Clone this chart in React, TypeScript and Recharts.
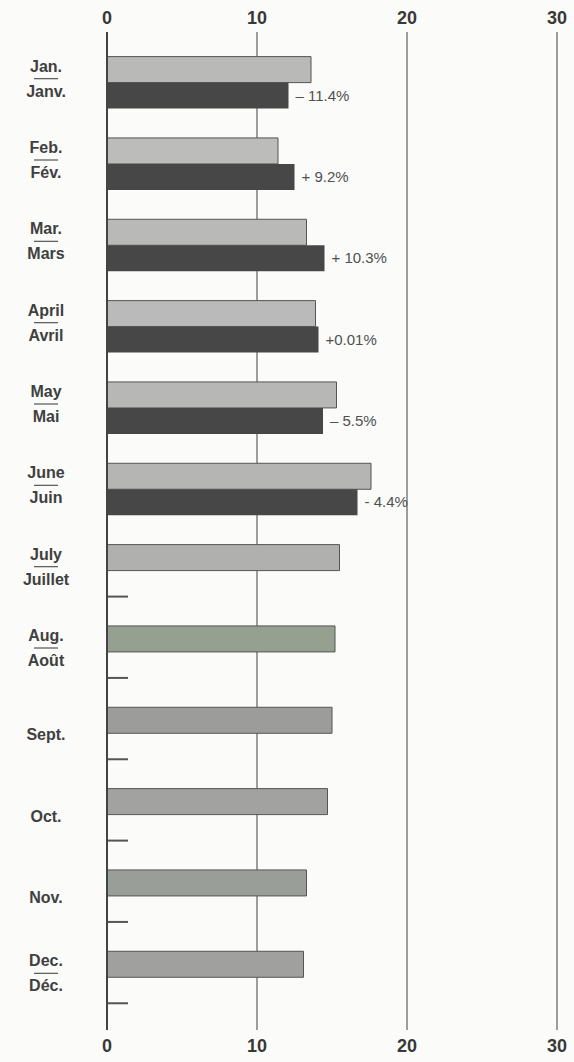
import { BarChart, Bar, XAxis, YAxis, CartesianGrid, Cell, LabelList } from 'recharts'

const monthsEn = ['Jan.', 'Feb.', 'Mar.', 'April', 'May', 'June', 'July', 'Aug.', 'Sept.', 'Oct.', 'Nov.', 'Dec.']
const monthsFr = ['Janv.', 'Fév.', 'Mars', 'Avril', 'Mai', 'Juin', 'Juillet', 'Août', '', '', '', 'Déc.']
const previousYear = [13.6, 11.4, 13.3, 13.9, 15.3, 17.6, 15.5, 15.2, 15.0, 14.7, 13.3, 13.1]
const currentYear = [12.1, 12.5, 14.5, 14.1, 14.4, 16.7, null, null, null, null, null, null]
const pendingMarks = [null, null, null, null, null, null, 1.4, 1.4, 1.4, 1.4, 1.4, 1.4]
const changeLabels = ['\u2013 11.4%', '+ 9.2%', '+ 10.3%', '+0.01%', '\u2013 5.5%', '- 4.4%', '', '', '', '', '', '']
const previousFills = ['#b9b9b7', '#bcbcba', '#b9b9b7', '#bababa', '#b7b7b5', '#b5b5b3', '#b0b1ae', '#96a091', '#9c9d9a', '#a2a2a0', '#9a9e98', '#a0a19e']
const xTicks = [0, 10, 20, 30]

const data = monthsEn.map((m, i) => ({
  month: m,
  fr: monthsFr[i],
  previous: previousYear[i],
  current: currentYear[i],
  pending: pendingMarks[i],
  change: changeLabels[i],
}))

const FONT = '"Liberation Sans", Arial, sans-serif'

function MonthTick({ x, y, payload, index }: any) {
  const fr = monthsFr[index]
  const cx = x - 53
  if (!fr) {
    return (
      <text x={cx} y={y + 7} textAnchor="middle" fontFamily={FONT} fontSize={16} fontWeight="bold" fill="#404040">
        {payload.value}
      </text>
    )
  }
  return (
    <g>
      <text x={cx} y={y - 11} textAnchor="middle" fontFamily={FONT} fontSize={16} fontWeight="bold" fill="#404040">
        {payload.value}
      </text>
      <line x1={cx - 12} x2={cx + 12} y1={y - 4} y2={y - 4} stroke="#555" strokeWidth={1.2} />
      <text x={cx} y={y + 14} textAnchor="middle" fontFamily={FONT} fontSize={16} fontWeight="bold" fill="#404040">
        {fr}
      </text>
    </g>
  )
}

function TopTick({ x, payload }: any) {
  return (
    <text x={x} y={24} textAnchor="middle" fontFamily={FONT} fontSize={18} fontWeight="bold" fill="#383838">
      {payload.value}
    </text>
  )
}

function BottomTick({ x, y, payload }: any) {
  return (
    <text x={x} y={y + 14} textAnchor="middle" fontFamily={FONT} fontSize={18} fontWeight="bold" fill="#383838">
      {payload.value}
    </text>
  )
}

function PendingMark({ x, y, width, height, pending }: any) {
  if (pending == null || !width) return null
  return <line x1={x} x2={x + width} y1={y + height} y2={y + height} stroke="#555" strokeWidth={2} />
}

function ChangeLabel({ x, y, width, height, value }: any) {
  if (!value) return null
  return (
    <text x={x + width + 7} y={y + height / 2 + 5} fontFamily={FONT} fontSize={15} fill="#505050">
      {value}
    </text>
  )
}

export default function App() {
  return (
    <div style={{ position: 'absolute', left: 0, top: 0, width: 574, height: 1062, background: '#fbfbf9' }}>
      <BarChart
        width={574}
        height={1062}
        data={data}
        layout="vertical"
        margin={{ top: 0, right: 17, bottom: 0, left: 0 }}
        barCategoryGap={14.6}
        barGap={0}
      >
        <CartesianGrid horizontal={false} xAxisId="bottom" stroke="#6a6a6a" strokeWidth={1.3} />
        <XAxis
          xAxisId="top"
          orientation="top"
          type="number"
          domain={[0, 30]}
          ticks={xTicks}
          height={32}
          axisLine={false}
          tickLine={false}
          tick={<TopTick />}
        />
        <XAxis
          xAxisId="bottom"
          orientation="bottom"
          type="number"
          domain={[0, 30]}
          ticks={xTicks}
          height={32}
          axisLine={false}
          tickLine={false}
          tick={<BottomTick />}
        />
        <YAxis
          type="category"
          dataKey="month"
          width={107}
          padding={{ top: 10, bottom: 12 }}
          axisLine={{ stroke: '#444', strokeWidth: 2 }}
          tickLine={false}
          tick={<MonthTick />}
          interval={0}
        />
        <Bar dataKey="previous" xAxisId="top" stackId="prev" stroke="#555" strokeWidth={1} isAnimationActive={false}>
          {data.map((d, i) => (
            <Cell key={d.month} fill={previousFills[i]} />
          ))}
        </Bar>
        <Bar dataKey="current" xAxisId="bottom" stackId="cur" fill="#474747" isAnimationActive={false}>
          <LabelList dataKey="change" content={<ChangeLabel />} />
        </Bar>
        <Bar dataKey="pending" xAxisId="bottom" stackId="cur" fill="none" isAnimationActive={false} shape={<PendingMark />} />
      </BarChart>
    </div>
  )
}
